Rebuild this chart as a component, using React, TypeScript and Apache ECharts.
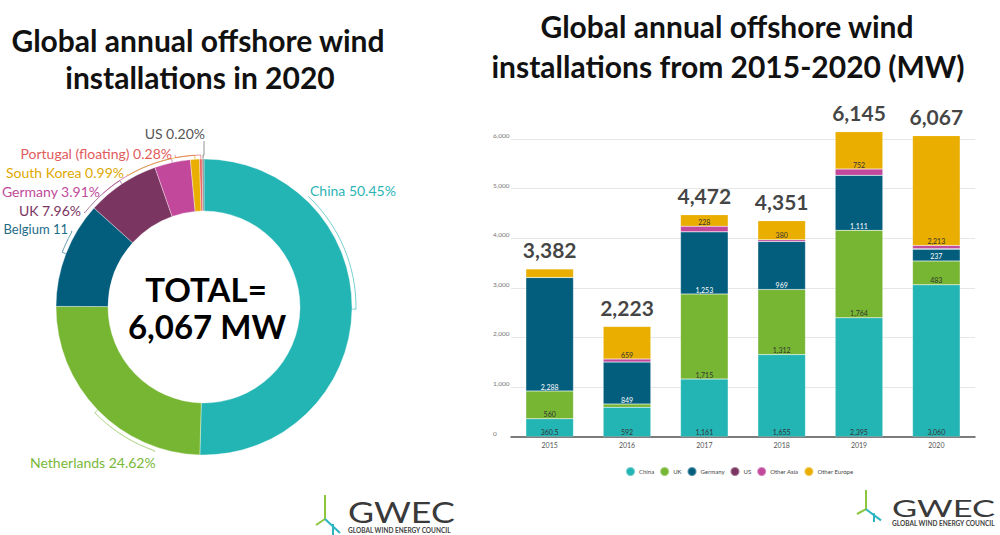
import React, { useEffect, useRef } from 'react';
import * as echarts from 'echarts';

// ---- Bar chart data (MW) ----
const years = ['2015', '2016', '2017', '2018', '2019', '2020'];
const chinaMW = [360.5, 592, 1161, 1655, 2395, 3060];
const ukMW = [560, 66, 1715, 1312, 1764, 483];
const germanyMW = [2288, 849, 1253, 969, 1111, 237];
const usMW = [0, 0, 0, 0, 0, 12];
const otherAsiaMW = [0, 57, 115, 35, 123, 62];
const otherEuropeMW = [173.5, 659, 228, 380, 752, 2213];
const totalMW = [3382, 2223, 4472, 4351, 6145, 6067];
const yTicks = [0, 1000, 2000, 3000, 4000, 5000, 6000];

// ---- Donut data (share of 2020 installations, %) ----
const pieNames = ['China', 'Netherlands', 'Belgium', 'UK', 'Germany', 'South Korea', 'Portugal (floating)', 'US'];
const pieShares = [50.45, 24.62, 11.59, 7.96, 3.91, 0.99, 0.28, 0.2];
const pieLabels = ['China 50.45%', 'Netherlands 24.62%', 'Belgium 11', 'UK 7.96%', 'Germany 3.91%', 'South Korea 0.99%', 'Portugal (floating) 0.28%', 'US 0.20%'];

const FONT = 'Lato, "Noto Sans", sans-serif';

const C_TEAL = '#23b4b4';
const C_GREEN = '#76b632';
const C_NAVY = '#035e7e';
const C_PURPLE = '#7b3561';
const C_MAGENTA = '#c1489b';
const C_GOLD = '#e9ae00';
const C_CORAL = '#e8605a';
const C_GRAY = '#8a8a8a';

const pieColors = [C_TEAL, C_GREEN, C_NAVY, C_PURPLE, C_MAGENTA, C_GOLD, C_CORAL, C_GRAY];
const pieLabelColors = ['#2ab5b5', '#7ab83a', '#1d6a88', '#7b3561', '#c04a9a', '#e0a800', '#e25b5b', '#555555'];
const pieLabelSizes = [14, 14, 13, 14, 14, 14, 14, 14];

// layout for the donut labels
const PIE_C = [204, 307];
const PIE_R_IN = 96;
const PIE_R_OUT = 148;
const pieLabelPos: [number, number, string][] = [
  [310, 190, 'left'],
  [30, 462, 'left'],
  [68, 229, 'right'],
  [81, 210, 'right'],
  [100, 191, 'right'],
  [124, 172, 'right'],
  [172, 153, 'right'],
  [205, 133, 'right'],
];
const pieLineAnchor: [number, number][] = [
  [308, 197],
  [154, 452],
  [71, 231],
  [84, 212],
  [103, 193],
  [127, 174],
  [175, 155],
  [204, 141],
];

function arcPoints(start: number[], anchor: number[]) {
  const r = PIE_R_OUT + 4;
  const am = Math.atan2(-(start[1] - PIE_C[1]), start[0] - PIE_C[0]);
  const aa = Math.atan2(-(anchor[1] - PIE_C[1]), anchor[0] - PIE_C[0]);
  let d = aa - am;
  while (d > Math.PI) d -= 2 * Math.PI;
  while (d < -Math.PI) d += 2 * Math.PI;
  const n = Math.max(2, Math.ceil(Math.abs(d) / (Math.PI / 60)));
  const pts: number[][] = [[start[0], start[1]]];
  for (let k = 0; k <= n; k++) {
    const a = am + (d * k) / n;
    pts.push([PIE_C[0] + r * Math.cos(a), PIE_C[1] - r * Math.sin(a)]);
  }
  pts.push([anchor[0], anchor[1]]);
  return pts;
}

const fmt = (v: number) => Number(v).toLocaleString('en-US');

function barSeries(name: string, values: number[], color: string, labelColor: string, showLabels: boolean) {
  return {
    type: 'bar',
    name,
    stack: 'total',
    barWidth: 47.6,
    clip: false,
    itemStyle: { color, borderColor: 'rgba(255,255,255,0.35)', borderWidth: 0.5 },
    label: {
      show: showLabels,
      position: 'insideBottom',
      distance: 1,
      fontSize: 7,
      fontFamily: FONT,
      color: labelColor,
      formatter: (p: any) => fmt(p.value),
    },
    data: values.map((v) =>
      showLabels && v < 200 ? { value: v, label: { show: false } } : v
    ),
  };
}

function logo(ox: number, oy: number, sy: number, tx: number, ty: number, tSize: number, tScale: number, sY: number, sSize: number, sScale: number) {
  const green = '#8cc63e';
  const teal = '#2bb5c0';
  const L = (x1: number, y1: number, x2: number, y2: number, c: string) => ({
    type: 'line',
    shape: { x1: ox + x1, y1: oy + y1 * sy, x2: ox + x2, y2: oy + y2 * sy },
    style: { stroke: c, lineWidth: 2 },
  });
  return [
    L(0, 0, 0, 24, green),
    L(0, 24, -9, 30, green),
    L(0, 24, 15, 38, teal),
    L(8, 29, 8, 40, teal),
    {
      type: 'text',
      x: tx,
      y: ty,
      scaleX: tScale,
      style: { text: 'GWEC', fontSize: tSize, fontFamily: FONT, fontWeight: 'normal', fill: '#3a3a3a', align: 'left', verticalAlign: 'middle' },
    },
    {
      type: 'text',
      x: tx,
      y: sY,
      scaleX: sScale,
      style: { text: 'GLOBAL WIND ENERGY COUNCIL', fontSize: sSize, fontFamily: FONT, fontWeight: 'bold', fill: '#444', align: 'left', verticalAlign: 'middle' },
    },
  ];
}

export default function App() {
  const ref = useRef<HTMLDivElement>(null);

  useEffect(() => {
    if (!ref.current) return;
    const chart = echarts.init(ref.current, undefined, { renderer: 'svg' });

    const titleStyle = (text: string) => ({ text, fontSize: 30, fontFamily: FONT, fontWeight: 'bold', fill: '#111', align: 'center', verticalAlign: 'middle' });

    const option: any = {
      animation: false,
      backgroundColor: '#ffffff',
      textStyle: { fontFamily: FONT },
      grid: { left: 511, right: 25, top: 139, bottom: 98.3 },
      xAxis: {
        type: 'category',
        data: years,
        axisLine: { lineStyle: { color: '#555', width: 1.5 } },
        axisTick: { show: false },
        axisLabel: { fontSize: 7, color: '#555', margin: 5, fontFamily: FONT },
      },
      yAxis: {
        type: 'value',
        min: yTicks[0],
        max: yTicks[yTicks.length - 1],
        interval: yTicks[1] - yTicks[0],
        axisLine: { show: false },
        axisTick: { show: false },
        splitLine: { lineStyle: { color: '#e6e6e6', width: 1 } },
        axisLabel: {
          align: 'left',
          margin: 18,
          verticalAlign: 'bottom',
          fontSize: 6.5,
          color: '#777',
          fontFamily: FONT,
          formatter: (v: number) => fmt(v),
        },
      },
      legend: {
        data: ['China', 'UK', 'Germany', 'US', 'Other Asia', 'Other Europe'],
        left: 620,
        top: 461,
        icon: 'circle',
        itemWidth: 9,
        itemHeight: 9,
        itemGap: 5,
        selectedMode: false,
        textStyle: { fontSize: 6, color: '#444', fontFamily: FONT, padding: [0, 0, 0, -1] },
      },
      series: [
        barSeries('China', chinaMW, C_TEAL, '#333', true),
        barSeries('UK', ukMW, C_GREEN, '#333', true),
        barSeries('Germany', germanyMW, C_NAVY, '#fff', true),
        barSeries('US', usMW, C_PURPLE, '#333', false),
        barSeries('Other Asia', otherAsiaMW, C_MAGENTA, '#333', false),
        barSeries('Other Europe', otherEuropeMW, C_GOLD, '#333', true),
        {
          type: 'scatter',
          name: 'Total',
          data: totalMW,
          symbolSize: 1,
          clip: false,
          silent: true,
          z: 10,
          itemStyle: { color: 'rgba(0,0,0,0)' },
          label: {
            show: true,
            position: 'top',
            distance: 8,
            fontSize: 21,
            fontWeight: 'bold',
            color: '#111',
            fontFamily: FONT,
            formatter: (p: any) => fmt(p.value),
          },
        },
        {
          type: 'pie',
          name: 'Offshore 2020',
          center: PIE_C,
          radius: [PIE_R_IN, PIE_R_OUT],
          startAngle: 90,
          clockwise: true,
          avoidLabelOverlap: false,
          silent: true,
          itemStyle: { borderColor: 'rgba(255,255,255,0.6)', borderWidth: 0.6 },
          label: { show: true, position: 'outside', fontSize: 14, fontFamily: FONT },
          labelLine: { show: true, length: 6, length2: 6, lineStyle: { width: 0.8, opacity: 0.8 } },
          labelLayout: (p: any) => {
            const i = p.dataIndex;
            const pos = pieLabelPos[i];
            const res: any = { x: pos[0], y: pos[1], align: pos[2], verticalAlign: 'middle' };
            if (p.labelLinePoints && p.labelLinePoints[0]) {
              res.labelLinePoints = arcPoints(p.labelLinePoints[0], pieLineAnchor[i]);
            }
            return res;
          },
          data: pieNames.map((n, i) => ({
            name: n,
            value: pieShares[i],
            itemStyle: { color: pieColors[i] },
            label: { formatter: pieLabels[i], color: pieLabelColors[i], fontSize: pieLabelSizes[i] },
            labelLine: { lineStyle: { color: pieLabelColors[i] } },
          })),
        },
      ],
      graphic: [
        { type: 'text', x: 198, y: 39.5, style: titleStyle('Global annual offshore wind') },
        { type: 'text', x: 200, y: 77, style: titleStyle('installations in 2020') },
        { type: 'text', x: 727, y: 26, style: titleStyle('Global annual offshore wind') },
        { type: 'text', x: 728, y: 65.5, style: titleStyle('installations from 2015-2020 (MW)') },
        { type: 'text', x: 206, y: 288.5, style: { text: 'TOTAL=', fontSize: 33, fontFamily: FONT, fontWeight: 'bold', fill: '#000', align: 'center', verticalAlign: 'middle' } },
        { type: 'text', x: 207, y: 325.5, style: { text: '6,067 MW', fontSize: 33, fontFamily: FONT, fontWeight: 'bold', fill: '#000', align: 'center', verticalAlign: 'middle' } },
        ...logo(325, 495, 1, 348, 511.5, 29, 1.23, 530.5, 6.5, 1.0),
        ...logo(866, 490, 0.8, 892, 508.3, 23, 1.5, 523, 6.5, 1.0),
      ],
    };

    chart.setOption(option);
    return () => chart.dispose();
  }, []);

  return (
    <div
      ref={ref}
      style={{ position: 'absolute', left: 0, top: 0, width: 1000, height: 535, background: '#fff' }}
    />
  );
}
